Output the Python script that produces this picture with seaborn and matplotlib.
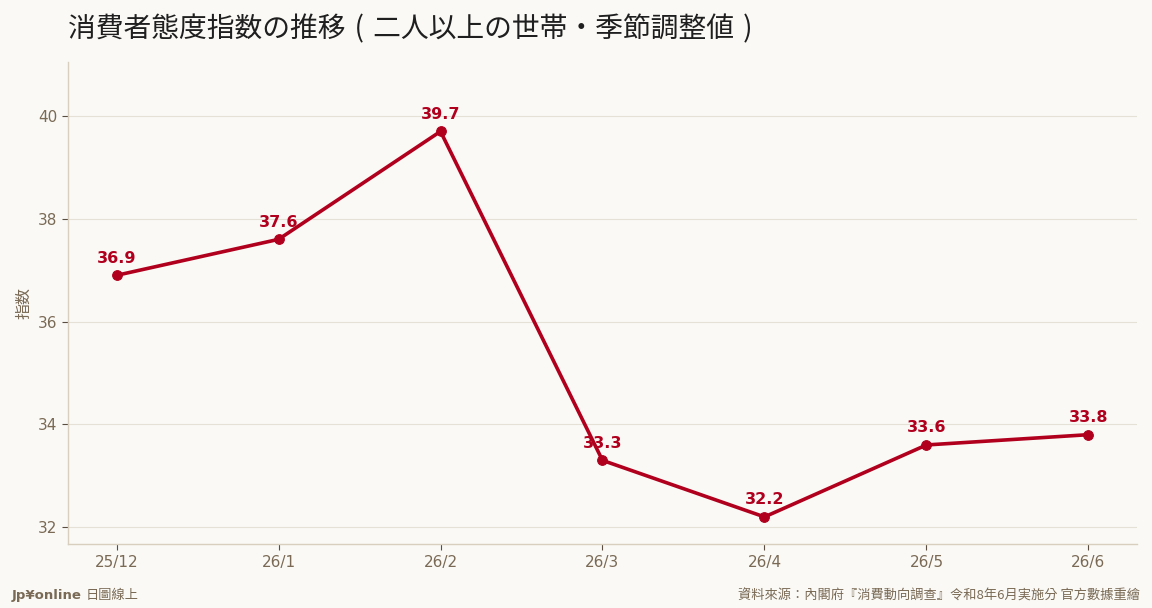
import matplotlib
matplotlib.use("Agg")
import matplotlib.pyplot as plt
import seaborn as sns
import pandas as pd

months = ["25/12", "26/1", "26/2", "26/3", "26/4", "26/5", "26/6"]
index_values = [36.9, 37.6, 39.7, 33.3, 32.2, 33.6, 33.8]
y_ticks = [32, 34, 36, 38, 40]

bg = "#FAF9F5"
red = "#B0001E"
muted = "#7A6A55"

sns.set_theme(style="white")
plt.rcParams['font.family'] = ['Noto Sans CJK JP', 'DejaVu Sans']

df = pd.DataFrame({"month": months, "value": index_values})
df["pos"] = range(len(df))

fig, ax = plt.subplots(figsize=(11.52, 6.08), dpi=100)
fig.patch.set_facecolor(bg)
ax.set_facecolor(bg)

sns.lineplot(data=df, x="pos", y="value", ax=ax, color=red, linewidth=2.6,
             marker="o", markersize=7, markeredgecolor=red)

for _, row in df.iterrows():
    ax.annotate(f"{row['value']:.1f}", (row["pos"], row["value"]),
                xytext=(0, 7), textcoords="offset points", ha="center", va="bottom",
                color=red, fontsize=11.5, fontweight="bold", family="DejaVu Sans")

ax.set_xlim(-0.3, 6.3)
ax.set_ylim(31.67, 41.05)
ax.set_xticks(df["pos"])
ax.set_xticklabels(months)
ax.set_yticks(y_ticks)
ax.set_xlabel("")
ax.set_ylabel("指数", color=muted, fontsize=11.5)
ax.grid(axis="y", color="#E6E1D6", linewidth=0.8)
ax.tick_params(axis="both", colors="#5A4E40", labelcolor=muted, labelsize=11,
               length=4, width=0.8, left=True, bottom=True)
for lbl in ax.get_xticklabels() + ax.get_yticklabels():
    lbl.set_family("DejaVu Sans")

for side in ["top", "right"]:
    ax.spines[side].set_visible(False)
for side in ["left", "bottom"]:
    ax.spines[side].set_color("#D8CFBF")
    ax.spines[side].set_linewidth(1.0)

sp = "\u2004"
ax.set_title(f"消費者態度指数の推移{sp}({sp}二人以上の世帯・季節調整値{sp}){sp}", loc="left",
             fontsize=20, color="#1F1F1F", pad=18,
             family=["Noto Sans CJK JP", "DejaVu Sans"])

fig.subplots_adjust(left=0.059, right=0.987, top=0.898, bottom=0.105)

fig.text(0.010, 0.014, "Jp¥online", color=muted, fontsize=9.5, fontweight="bold",
         family="DejaVu Sans", ha="left", va="baseline")
fig.text(0.074, 0.014, "日圖線上", color=muted, fontsize=9.5,
         family=["Noto Sans CJK TC", "DejaVu Sans"], ha="left", va="baseline")
fig.text(0.990, 0.014, "資料來源：內閣府『消費動向調查』令和8年6月実施分 官方數據重繪",
         color=muted, fontsize=9.5, family=["Noto Sans CJK TC", "DejaVu Sans"],
         ha="right", va="baseline")

fig.savefig("out.png", dpi=100, facecolor=bg)
